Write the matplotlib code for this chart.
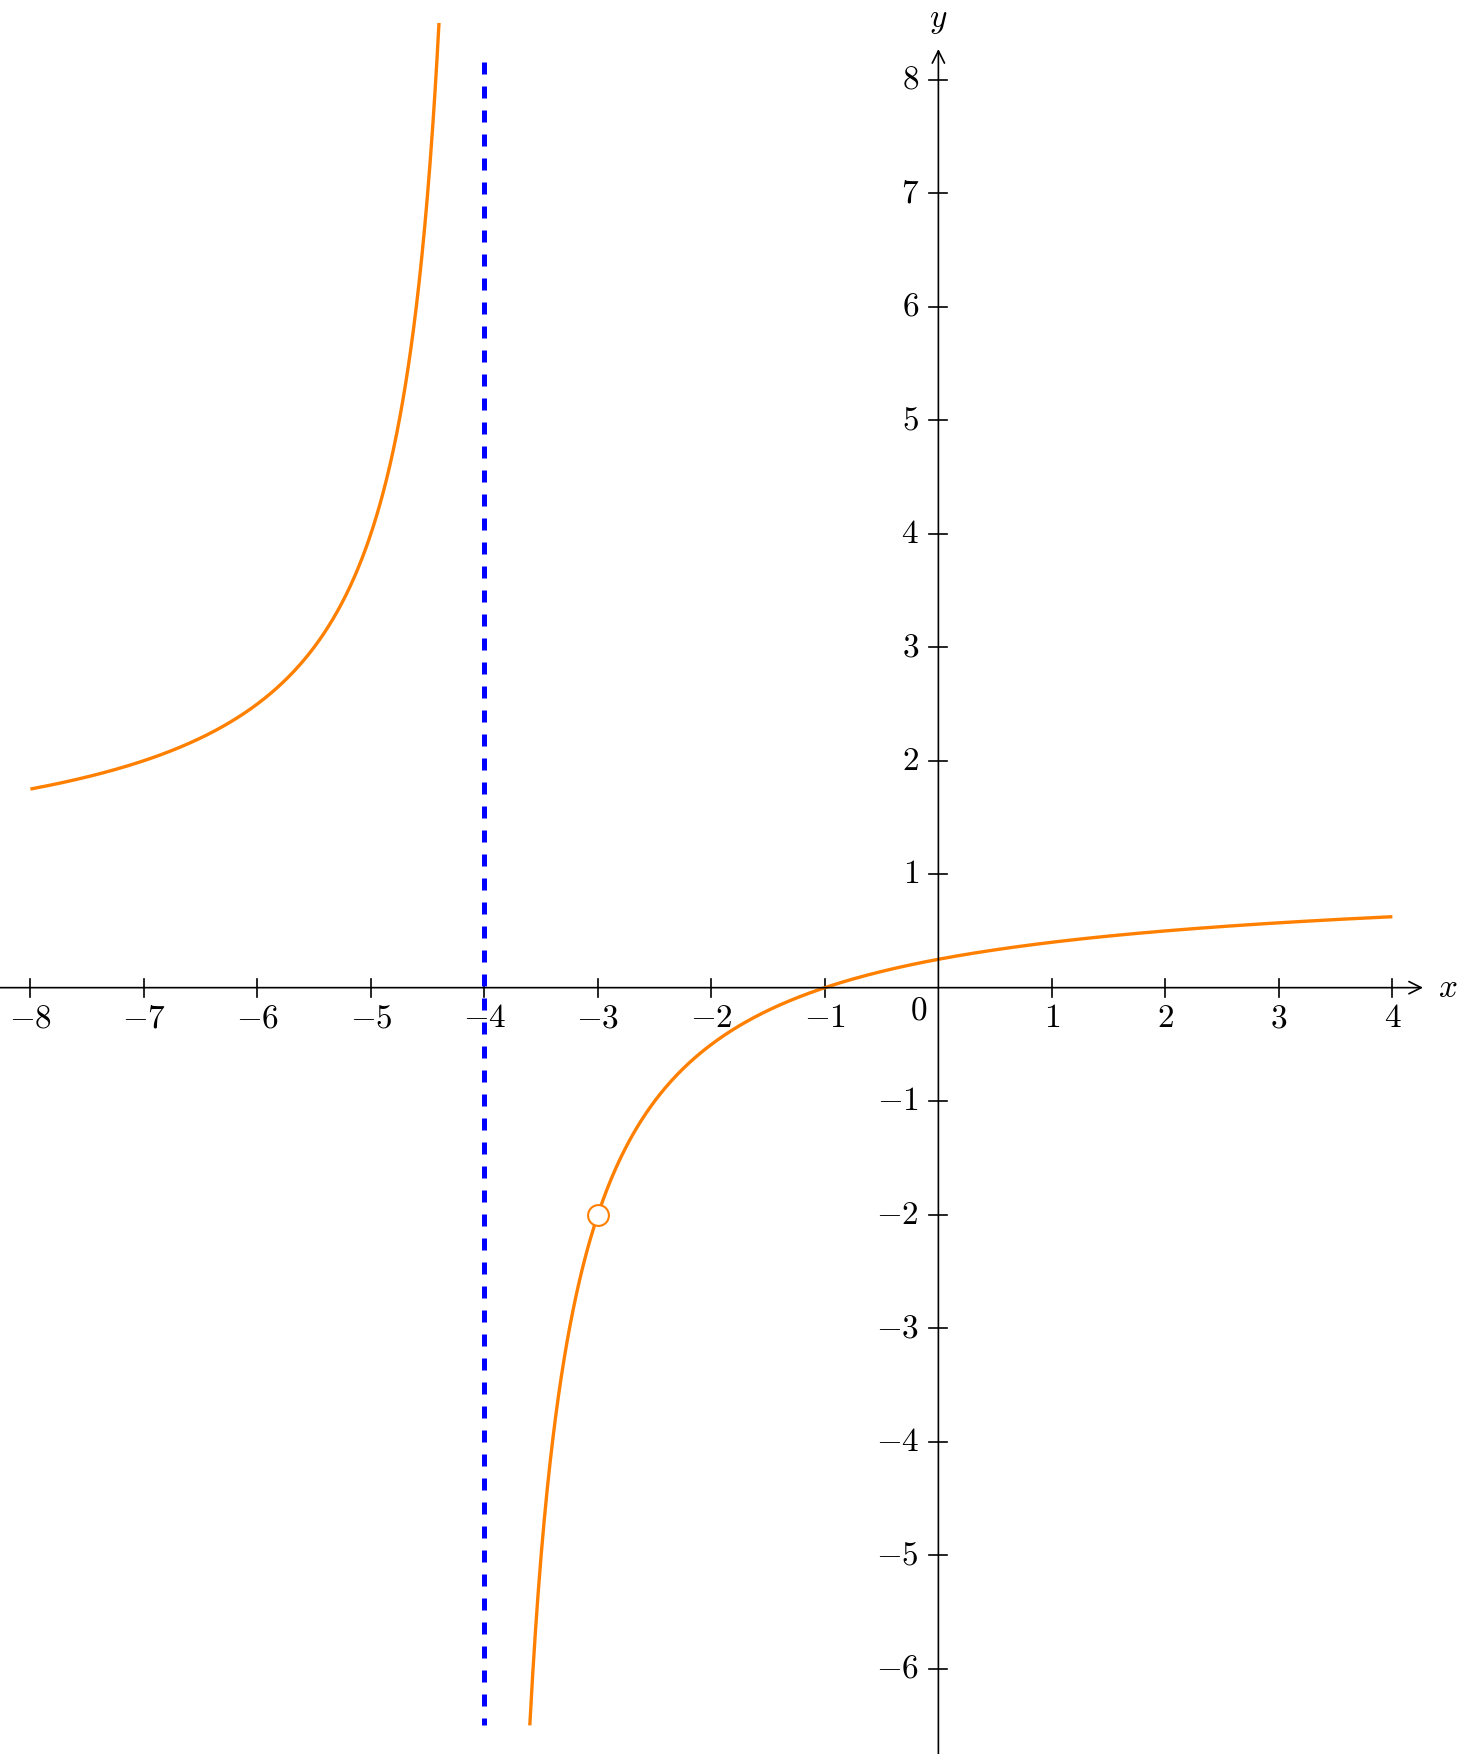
import numpy as np
import matplotlib.pyplot as plt

plt.rcParams['mathtext.fontset'] = 'cm'
plt.rcParams['font.family'] = 'serif'
plt.rcParams['font.serif'] = ['DejaVu Serif']

# rational function y = (x + 1)(x + 3) / ((x + 4)(x + 3)), hole at x = -3
num_root = -1
asymptote = -4
hole = (-3, -2)
left_branch = (-8, -4.4)
right_branch = (-3.6, 4)
asym_span = (8.16, -6.5)

xticks = [-8, -7, -6, -5, -4, -3, -2, -1, 1, 2, 3, 4]
yticks = [-6, -5, -4, -3, -2, -1, 1, 2, 3, 4, 5, 6, 7, 8]

fig = plt.figure(figsize=(14.7, 17.54), dpi=100)
ax = fig.add_axes([0, 0, 1, 1])
ax.set_xlim(-8.268, 4.684)
ax.set_ylim(-6.752, 8.702)
ax.axis('off')

orange = '#ff8000'


def f(x):
    return (x - num_root) / (x - asymptote)


for a, b in (left_branch, right_branch):
    xs = np.linspace(a, b, 600)
    ax.plot(xs, f(xs), color=orange, lw=2.4, solid_capstyle='butt', zorder=3)

# dashed asymptote, drawn top-down so the dash pattern starts cleanly at the top
ax.plot([asymptote, asymptote], asym_span, color='#0000ff', lw=3.6,
        linestyle=(0, (2.4, 2.4)), zorder=4)

ax.plot(*hole, 'o', ms=15, mfc='white', mec=orange, mew=1.5, zorder=5)

# axes with arrows
ax.annotate('', xy=(4.27, 0), xytext=(-8.268, 0),
            arrowprops=dict(arrowstyle='->', lw=1.2, color='black',
                            shrinkA=0, shrinkB=0, mutation_scale=22))
ax.annotate('', xy=(0, 8.27), xytext=(0, -6.752),
            arrowprops=dict(arrowstyle='->', lw=1.2, color='black',
                            shrinkA=0, shrinkB=0, mutation_scale=22))
ax.text(4.49, 0, r'$x$', fontsize=24, ha='center', va='center')
ax.text(0, 8.53, r'$y$', fontsize=24, ha='center', va='center')

tk = 0.08
for t in xticks:
    ax.plot([t, t], [-tk, tk], color='black', lw=1.2)
    ax.text(t, -0.27, r'$%d$' % t, fontsize=24, ha='center', va='center')
for t in yticks:
    ax.plot([-tk, tk], [t, t], color='black', lw=1.2)
    ax.text(-0.17, t, r'$%d$' % t, fontsize=24, ha='right', va='center')
ax.text(-0.17, -0.2, r'$0$', fontsize=24, ha='center', va='center')

fig.savefig('out.png', dpi=100)
